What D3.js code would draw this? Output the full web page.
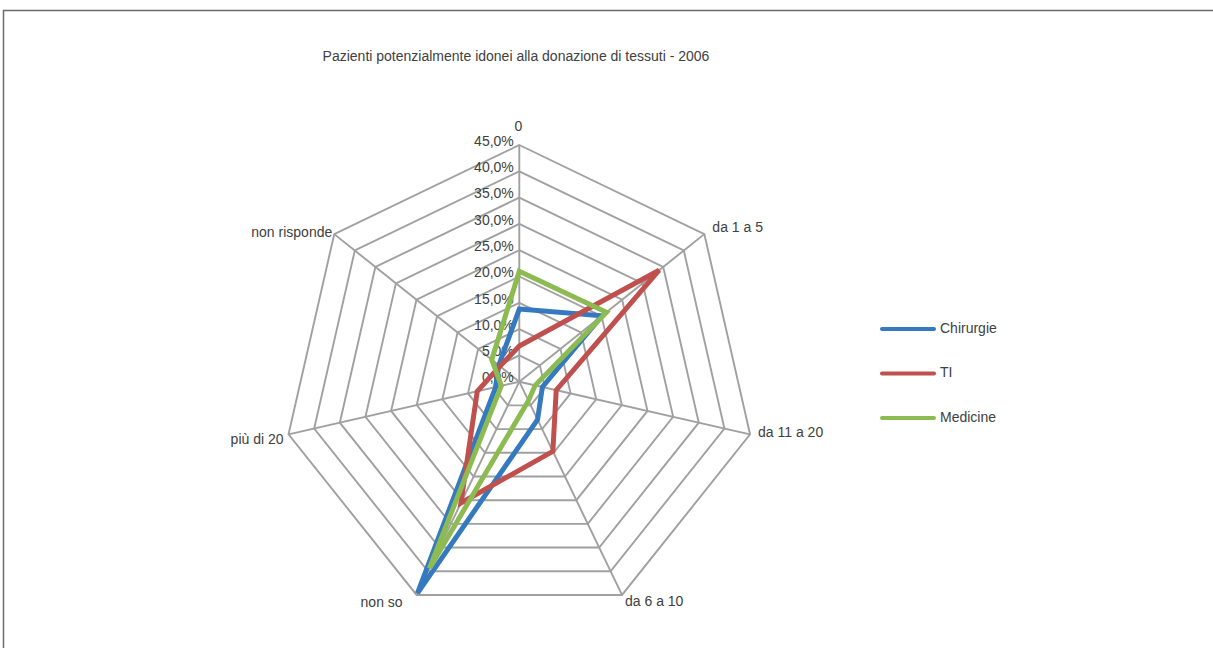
<!DOCTYPE html>
<html>
<head>
<meta charset="utf-8">
<script src="https://cdn.jsdelivr.net/npm/d3@7"></script>
<style>
  html, body { margin: 0; padding: 0; background: #fff; }
  svg { display: block; }
  text { font-family: "Liberation Sans", "DejaVu Sans", sans-serif; fill: #404040; }
</style>
</head>
<body>
<svg id="chart" width="1213" height="648"></svg>
<script>
// Radar axes (clockwise from the top)
const categories = ["0", "da 1 a 5", "da 11 a 20", "da 6 a 10", "non so", "più di 20", "non risponde"];

// Share of answers per ward group (%)
const chirurgie = [13.8, 20.1, 4.5, 8.0, 44.6, 4.6, 5.0];
const ti        = [6.8, 34.0, 7.2, 14.7, 25.6, 8.2, 4.7];
const medicine  = [21.0, 21.2, 3.1, 4.0, 39.4, 3.5, 6.7];

const seriesNames = ["Chirurgie", "TI", "Medicine"];
const tickValues = [0, 5, 10, 15, 20, 25, 30, 35, 40, 45];

const title = "Pazienti potenzialmente idonei alla donazione di tessuti - 2006";

const series = [
  { name: seriesNames[0], values: chirurgie, color: "#3579BF" },
  { name: seriesNames[1], values: ti,        color: "#C0504D" },
  { name: seriesNames[2], values: medicine,  color: "#8CBB52" }
];

const svg = d3.select("#chart");
const width = 1213, height = 648;
const cx = 519.3, cy = 381.7, R = 236.7;

svg.append("rect").attr("width", width).attr("height", height).attr("fill", "#fff");

// chart frame (top and left edges)
svg.append("line").attr("x1", 3).attr("x2", width).attr("y1", 10.5).attr("y2", 10.5)
  .attr("stroke", "#6b6b6b").attr("stroke-width", 1.5);
svg.append("line").attr("x1", 3.5).attr("x2", 3.5).attr("y1", 10).attr("y2", height)
  .attr("stroke", "#6b6b6b").attr("stroke-width", 1.5);

// title
svg.append("text")
  .attr("x", 516).attr("y", 57)
  .attr("text-anchor", "middle").attr("dominant-baseline", "middle")
  .style("font-size", "14px")
  .text(title);

const r = d3.scaleLinear().domain([0, 45]).range([0, R]);
const angle = d3.scalePoint().domain(categories).range([0, 2 * Math.PI * (categories.length - 1) / categories.length]);

const g = svg.append("g").attr("transform", `translate(${cx},${cy})`);

const pt = (cat, v) => {
  const a = angle(cat);
  return [Math.sin(a) * r(v), -Math.cos(a) * r(v)];
};

// grid rings
const ring = d3.lineRadial().angle(d => angle(d.c)).radius(d => r(d.v)).curve(d3.curveLinearClosed);
g.selectAll("path.ring")
  .data(tickValues.filter(t => t > 0))
  .join("path")
  .attr("class", "ring")
  .attr("d", t => ring(categories.map(c => ({ c, v: t }))))
  .attr("fill", "none").attr("stroke", "#a0a0a0").attr("stroke-width", 1.9);

// spokes
g.selectAll("line.spoke")
  .data(categories)
  .join("line")
  .attr("class", "spoke")
  .attr("x1", 0).attr("y1", 0)
  .attr("x2", c => pt(c, 45)[0]).attr("y2", c => pt(c, 45)[1])
  .attr("stroke", "#a0a0a0").attr("stroke-width", 1.9);

// radial tick labels along the top spoke
const fmt = v => d3.format(".1f")(v).replace(".", ",") + "%";
g.selectAll("text.tick")
  .data(tickValues)
  .join("text")
  .attr("class", "tick")
  .attr("x", -5.5)
  .attr("y", t => -r(t) - 3)
  .attr("text-anchor", "end").attr("dominant-baseline", "middle")
  .style("font-size", "14px")
  .text(fmt);

// category labels placed just outside each outer vertex
const labelLayout = [
  { dx: -1, dy: -18, anchor: "middle" },
  { dx: 8,  dy: -6,  anchor: "start" },
  { dx: 8,  dy: -1,  anchor: "start" },
  { dx: 3,  dy: 7,   anchor: "start" },
  { dx: -14, dy: 8,  anchor: "end" },
  { dx: -5, dy: 6,   anchor: "end" },
  { dx: -2, dy: -1,  anchor: "end" }
];
g.selectAll("text.cat")
  .data(categories)
  .join("text")
  .attr("class", "cat")
  .attr("x", (c, i) => pt(c, 45)[0] + labelLayout[i].dx)
  .attr("y", (c, i) => pt(c, 45)[1] + labelLayout[i].dy)
  .attr("text-anchor", (c, i) => labelLayout[i].anchor)
  .attr("dominant-baseline", "middle")
  .style("font-size", "14px")
  .text(c => c);

// series polygons
const radar = d3.lineRadial()
  .angle((d, i) => angle(categories[i]))
  .radius(d => r(d))
  .curve(d3.curveLinearClosed);

g.selectAll("path.series")
  .data(series)
  .join("path")
  .attr("class", "series")
  .attr("d", s => radar(s.values))
  .attr("fill", "none")
  .attr("stroke", s => s.color)
  .attr("stroke-width", 5)
  .attr("stroke-linejoin", "miter");

// legend
const legend = svg.append("g").attr("transform", "translate(882,329)");
const item = legend.selectAll("g.item")
  .data(series)
  .join("g")
  .attr("class", "item")
  .attr("transform", (s, i) => `translate(0,${i * 44.5})`);
item.append("line")
  .attr("x1", 0).attr("x2", 52).attr("y1", 0).attr("y2", 0)
  .attr("stroke", s => s.color).attr("stroke-width", 4).attr("stroke-linecap", "round");
item.append("text")
  .attr("x", 58).attr("y", 0)
  .attr("dominant-baseline", "middle")
  .style("font-size", "14px")
  .text(s => s.name);
</script>
</body>
</html>
